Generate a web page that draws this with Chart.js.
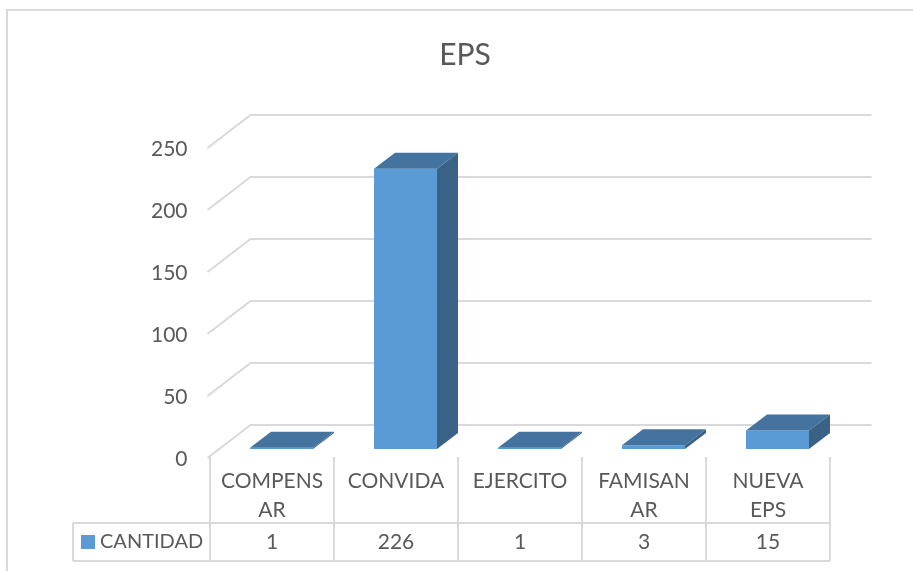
<!DOCTYPE html>
<html>
<head>
<meta charset="utf-8">
<script src="https://cdn.jsdelivr.net/npm/chart.js@4.4.1/dist/chart.umd.min.js"></script>
<style>
html,body{margin:0;padding:0;background:#fff;}
canvas{display:block;}
</style>
</head>
<body>
<canvas id="epsChart" width="913" height="571"></canvas>
<script>
// data
const categories = ['COMPENSAR', 'CONVIDA', 'EJERCITO', 'FAMISANAR', 'NUEVA EPS'];
const headerLines = [['COMPENS', 'AR'], ['CONVIDA'], ['EJERCITO'], ['FAMISAN', 'AR'], ['NUEVA', 'EPS']];
const cantidad = [1, 226, 1, 3, 15];
const yTicks = [0, 50, 100, 150, 200, 250];
const seriesName = 'CANTIDAD';
const chartTitle = 'EPS';

const FONT = 'Lato, "Open Sans", sans-serif';
const TEXT = '#595959';
const LINE = '#D9D9D9';
const FRONT = '#5B9BD5';
const TOP = '#44739F';
const SIDE = '#3A6287';

// 3d offsets (bar depth, back wall, floor)
const BAR_DX = 21, BAR_DY = 16;
const BACK_DX = 31, BACK_DY = 24;
const FLOOR_DX = 43, FLOOR_DY = 33;

const excel3d = {
  id: 'excel3d',
  beforeDatasetsDraw(chart) {
    const ctx = chart.ctx;
    const xS = chart.scales.x, yS = chart.scales.y;
    ctx.save();
    // outer border
    ctx.strokeStyle = LINE;
    ctx.lineWidth = 2;
    ctx.beginPath();
    ctx.moveTo(7, 575); ctx.lineTo(7, 10); ctx.lineTo(915, 10);
    ctx.stroke();

    // title
    ctx.fillStyle = TEXT;
    ctx.font = '30px ' + FONT;
    ctx.textAlign = 'center';
    ctx.textBaseline = 'middle';
    ctx.fillText(chartTitle, 465, 55);

    // back wall gridlines + side diagonals + tick labels
    const x0 = xS.left + BACK_DX, x1 = xS.right + BACK_DX + 1;
    ctx.font = '21px ' + FONT;
    ctx.textAlign = 'right';
    yTicks.forEach(v => {
      const y0 = yS.getPixelForValue(v) - BACK_DY;
      ctx.strokeStyle = LINE;
      ctx.lineWidth = 2;
      ctx.beginPath();
      ctx.moveTo(x0 - FLOOR_DX, y0 + FLOOR_DY);
      ctx.lineTo(x0, y0);
      ctx.lineTo(x1, y0);
      ctx.stroke();
      ctx.fillStyle = TEXT;
      ctx.fillText(String(v), x0 - FLOOR_DX - 20, y0 + FLOOR_DY + 1);
    });
    ctx.restore();
  },
  afterDatasetsDraw(chart) {
    const ctx = chart.ctx;
    const meta = chart.getDatasetMeta(0);
    ctx.save();
    meta.data.forEach(bar => {
      const p = bar.getProps(['x', 'y', 'base', 'width'], true);
      const l = p.x - p.width / 2, r = p.x + p.width / 2;
      // top face
      ctx.fillStyle = TOP;
      ctx.beginPath();
      ctx.moveTo(l, p.y);
      ctx.lineTo(r, p.y);
      ctx.lineTo(r + BAR_DX, p.y - BAR_DY);
      ctx.lineTo(l + BAR_DX, p.y - BAR_DY);
      ctx.closePath();
      ctx.fill();
      // side face
      ctx.fillStyle = SIDE;
      ctx.beginPath();
      ctx.moveTo(r, p.y);
      ctx.lineTo(r + BAR_DX, p.y - BAR_DY);
      ctx.lineTo(r + BAR_DX, p.base - BAR_DY);
      ctx.lineTo(r, p.base);
      ctx.closePath();
      ctx.fill();
    });
    ctx.restore();
  },
  afterDraw(chart) {
    // data table under the plot
    const ctx = chart.ctx;
    const xS = chart.scales.x, yS = chart.scales.y;
    const colW = xS.width / categories.length;
    const colLeft = i => xS.getPixelForValue(0) - colW / 2 - 9.5 + i * colW;
    const top = yS.getPixelForValue(0) + 8;
    const rowY = 523, bottom = 561, legendLeft = 73;
    ctx.save();
    ctx.strokeStyle = LINE;
    ctx.lineWidth = 2;
    ctx.beginPath();
    for (let i = 0; i <= categories.length; i++) {
      const x = colLeft(i);
      ctx.moveTo(x, top); ctx.lineTo(x, bottom);
    }
    ctx.moveTo(legendLeft, rowY); ctx.lineTo(colLeft(categories.length), rowY);
    ctx.moveTo(legendLeft, bottom); ctx.lineTo(colLeft(categories.length), bottom);
    ctx.moveTo(legendLeft, rowY); ctx.lineTo(legendLeft, bottom);
    ctx.stroke();

    ctx.fillStyle = TEXT;
    ctx.font = '21px ' + FONT;
    ctx.textAlign = 'center';
    ctx.textBaseline = 'middle';
    headerLines.forEach((lines, i) => {
      const cx = colLeft(i) + colW / 2;
      lines.forEach((t, k) => ctx.fillText(t, cx, 481 + k * 29));
      ctx.fillText(String(cantidad[i]), cx, 542);
    });
    // legend key
    ctx.fillStyle = FRONT;
    ctx.fillRect(81, 535, 14, 14);
    ctx.fillStyle = TEXT;
    ctx.textAlign = 'left';
    ctx.font = '20px ' + FONT;
    ctx.fillText(seriesName, 100, 542);
    ctx.restore();
  }
};

new Chart(document.getElementById('epsChart'), {
  type: 'bar',
  data: {
    labels: categories,
    datasets: [{
      label: seriesName,
      data: cantidad,
      backgroundColor: FRONT,
      borderWidth: 0,
      categoryPercentage: 1,
      barPercentage: 63 / 124
    }]
  },
  options: {
    responsive: false,
    animation: false,
    devicePixelRatio: 1,
    layout: { padding: { left: 219.5, right: 73.5, top: 139, bottom: 122 } },
    scales: {
      x: { display: false },
      y: { display: false, min: 0, max: 250 }
    },
    plugins: {
      legend: { display: false },
      title: { display: false },
      tooltip: { enabled: false }
    }
  },
  plugins: [excel3d]
});
</script>
</body>
</html>
